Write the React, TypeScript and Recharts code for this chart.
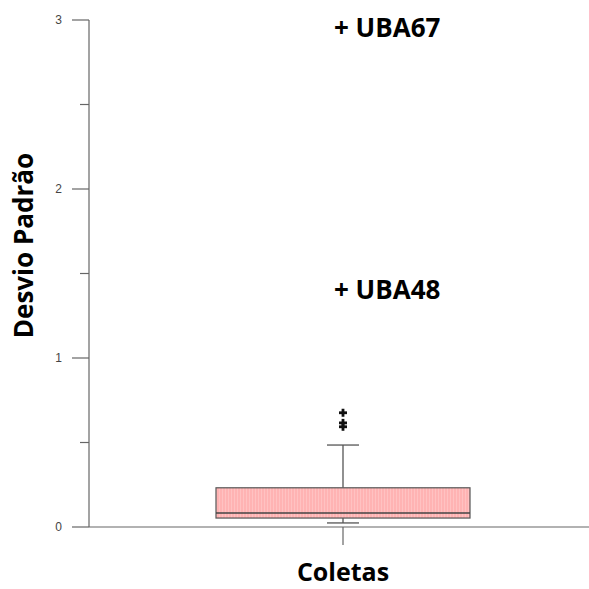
import React from 'react';
import { ComposedChart, Bar, Scatter, XAxis, YAxis } from 'recharts';

// box summary for "Coletas"
const categories = ['Coletas'];
const boxMin = [0.024];
const boxQ1 = [0.053];
const boxMedian = [0.083];
const boxQ3 = [0.232];
const boxMax = [0.485];
const outliers = [0.676, 0.616, 0.593];
const namedOutliers = [
  { id: 'UBA48', value: 1.402 },
  { id: 'UBA67', value: 2.953 },
];
const yTicks = [0, 0.5, 1, 1.5, 2, 2.5, 3];

const data = categories.map((name, i) => {
  const row: Record<string, any> = {
    name,
    range: [boxMin[i], boxMax[i]],
    min: boxMin[i],
    q1: boxQ1[i],
    median: boxMedian[i],
    q3: boxQ3[i],
    max: boxMax[i],
  };
  outliers.forEach((v, k) => (row['out' + k] = v));
  namedOutliers.forEach((o) => (row[o.id] = o.value));
  return row;
});

const BoxShape = (props: any) => {
  const { x, y, width, height, payload } = props;
  const top = Math.min(y, y + height);
  const h = Math.abs(height);
  const { min, max, q1, median, q3 } = payload;
  const py = (v: number) => top + (h * (max - v)) / (max - min);
  const cx = x + width / 2;
  const cap = 16;
  return (
    <g>
      <line x1={cx} x2={cx} y1={py(max)} y2={py(q3)} stroke="#555" strokeWidth={1.3} />
      <line x1={cx} x2={cx} y1={py(q1)} y2={py(min)} stroke="#555" strokeWidth={1.3} />
      <line x1={cx - cap} x2={cx + cap} y1={py(max)} y2={py(max)} stroke="#555" strokeWidth={1.3} />
      <line x1={cx - cap} x2={cx + cap} y1={py(min)} y2={py(min)} stroke="#555" strokeWidth={1.3} />
      <rect
        x={x}
        y={py(q3)}
        width={width}
        height={py(q1) - py(q3)}
        fill="url(#pinkHatch)"
        stroke="#555"
        strokeWidth={1.2}
      />
      <line x1={x} x2={x + width} y1={py(median)} y2={py(median)} stroke="#444" strokeWidth={1.4} />
    </g>
  );
};

const PlusShape = (props: any) => {
  const { cx, cy } = props;
  return (
    <g fill="#111">
      <rect x={cx - 4} y={cy - 1.4} width={8} height={2.8} />
      <rect x={cx - 1.4} y={cy - 4} width={2.8} height={8} />
    </g>
  );
};

const makeNamedShape = (id: string) => (props: any) => {
  const { cx, cy } = props;
  return (
    <text
      x={cx - 9}
      y={cy + 9}
      fontFamily="'Open Sans', sans-serif"
      fontWeight="bold"
      fontSize={26}
      fill="#000"
    >
      {'+ ' + id}
    </text>
  );
};

const YTick = (props: any) => {
  const { x, y, payload } = props;
  const major = Number.isInteger(payload.value);
  return (
    <g>
      <line x1={x - (major ? 17 : 9)} x2={x} y1={y} y2={y} stroke="#666" strokeWidth={1.2} />
      {major && (
        <text x={x - 27} y={y + 4} textAnchor="end" fontFamily="'Liberation Sans', Arial, sans-serif" fontSize={12} fill="#444">
          {payload.value}
        </text>
      )}
    </g>
  );
};

const YLabel = (props: any) => {
  const { viewBox } = props;
  const x = viewBox.x + 23;
  const y = viewBox.y + viewBox.height * 0.445;
  return (
    <text
      x={x}
      y={y}
      transform={`rotate(-90, ${x}, ${y})`}
      textAnchor="middle"
      dominantBaseline="central"
      fontFamily="'Open Sans', sans-serif"
      fontWeight="bold"
      fontSize={26}
      fill="#000"
    >
      Desvio Padrão
    </text>
  );
};

const App: React.FC = () => {
  return (
    <div style={{ position: 'absolute', left: 0, top: 0, width: 589, height: 589, overflow: 'hidden', background: '#fff' }}>
      <ComposedChart width={597} height={589} data={data} margin={{ top: 20, right: 0, bottom: 0, left: 0 }}>
        <defs>
          <pattern id="pinkHatch" width="3" height="6" patternUnits="userSpaceOnUse">
            <rect width="3" height="6" fill="#ffb3b3" />
            <rect width="1" height="6" fill="#ffc2c2" />
          </pattern>
        </defs>
        <XAxis
          dataKey="name"
          height={62}
          tickFormatter={() => ''}
          tickSize={18}
          tickLine={{ stroke: '#666', strokeWidth: 1.2 }}
          axisLine={{ stroke: '#666', strokeWidth: 1.2 }}
          label={{
            value: 'Coletas',
            position: 'insideBottom',
            offset: 8,
            style: { fontFamily: "'Open Sans', sans-serif", fontWeight: 'bold', fontSize: 25, fill: '#000' },
          }}
        />
        <YAxis
          width={89}
          domain={[0, 3]}
          ticks={yTicks}
          interval={0}
          tickSize={0}
          tickMargin={0}
          tick={<YTick />}
          axisLine={{ stroke: '#666', strokeWidth: 1.2 }}
          label={<YLabel />}
        />
        <Bar dataKey="range" barSize={254} shape={<BoxShape />} isAnimationActive={false} />
        {outliers.map((_, k) => (
          <Scatter key={k} dataKey={'out' + k} shape={<PlusShape />} isAnimationActive={false} />
        ))}
        {namedOutliers.map((o) => (
          <Scatter key={o.id} dataKey={o.id} shape={makeNamedShape(o.id)} isAnimationActive={false} />
        ))}
      </ComposedChart>
    </div>
  );
};

export default App;
